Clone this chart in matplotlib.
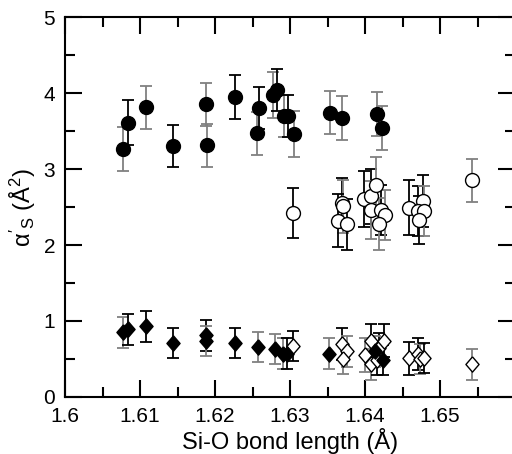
import matplotlib
matplotlib.use("Agg")
import matplotlib.pyplot as plt
from matplotlib.ticker import MultipleLocator, FixedLocator

plt.rcParams['font.family'] = ['Liberation Sans', 'DejaVu Sans']
plt.rcParams['mathtext.fontset'] = 'custom'
plt.rcParams['mathtext.rm'] = 'Liberation Sans'
plt.rcParams['mathtext.it'] = 'Liberation Sans'

# Filled circles
fc_x = [1.6078, 1.6084, 1.6108, 1.6144, 1.6188, 1.6189, 1.6226, 1.6259, 1.6256,
        1.6278, 1.6282, 1.6292, 1.6298, 1.6305, 1.6353, 1.6369, 1.6416, 1.6422]
fc_y = [3.26, 3.61, 3.81, 3.30, 3.85, 3.31, 3.95, 3.80, 3.47,
        3.97, 4.04, 3.70, 3.70, 3.46, 3.74, 3.67, 3.72, 3.54]
fc_e = [0.29, 0.30, 0.28, 0.28, 0.28, 0.28, 0.29, 0.28, 0.28,
        0.30, 0.28, 0.28, 0.28, 0.30, 0.28, 0.29, 0.29, 0.29]
fc_c = ['g', 'k', 'g', 'k', 'g', 'g', 'k', 'k', 'g',
        'g', 'k', 'g', 'k', 'g', 'g', 'g', 'g', 'g']

# Open circles
oc_x = [1.6304, 1.6369, 1.6370, 1.6364, 1.6376, 1.6399, 1.6408, 1.6415, 1.6408,
        1.6421, 1.6426, 1.6418, 1.6459, 1.6477, 1.6471, 1.6479, 1.6472, 1.6543]
oc_y = [2.42, 2.55, 2.51, 2.32, 2.27, 2.61, 2.64, 2.79, 2.46,
        2.46, 2.39, 2.28, 2.49, 2.58, 2.45, 2.45, 2.33, 2.85]
oc_e = [0.33, 0.33, 0.35, 0.35, 0.33, 0.37, 0.36, 0.37, 0.38,
        0.33, 0.33, 0.34, 0.36, 0.34, 0.33, 0.33, 0.32, 0.28]
oc_c = ['k', 'k', 'g', 'k', 'k', 'k', 'k', 'g', 'g',
        'k', 'g', 'g', 'k', 'k', 'k', 'g', 'k', 'g']

# Filled diamonds
fd_x = [1.6078, 1.6084, 1.6108, 1.6144, 1.6188, 1.6188, 1.6226, 1.6258, 1.6280,
        1.6291, 1.6296, 1.6352, 1.6413, 1.6424]
fd_y = [0.85, 0.89, 0.93, 0.71, 0.81, 0.74, 0.71, 0.66, 0.63,
        0.57, 0.57, 0.57, 0.60, 0.49]
fd_e = [0.20, 0.20, 0.20, 0.20, 0.20, 0.20, 0.20, 0.20, 0.20,
        0.20, 0.20, 0.20, 0.20, 0.20]
fd_c = ['g', 'k', 'k', 'k', 'k', 'g', 'k', 'g', 'g',
        'g', 'k', 'g', 'g', 'k']

# Open diamonds
od_x = [1.6304, 1.6369, 1.6376, 1.6370, 1.6400, 1.6408, 1.6408, 1.6416, 1.6419,
        1.6425, 1.6458, 1.6471, 1.6473, 1.6479, 1.6543]
od_y = [0.67, 0.70, 0.60, 0.50, 0.55, 0.74, 0.43, 0.49, 0.64,
        0.74, 0.51, 0.57, 0.50, 0.51, 0.43]
od_e = [0.20, 0.21, 0.20, 0.20, 0.22, 0.22, 0.20, 0.20, 0.20,
        0.22, 0.22, 0.21, 0.20, 0.20, 0.20]
od_c = ['k', 'k', 'g', 'g', 'g', 'k', 'g', 'k', 'k',
        'k', 'k', 'k', 'g', 'k', 'g']

COL = {'k': '#000000', 'g': '#808080'}
DIAMOND = [(0, 1), (0.86, 0), (0, -1), (-0.86, 0), (0, 1)]

fig = plt.figure(figsize=(5.12, 4.54), dpi=100)
ax = fig.add_axes([65/512, 1 - 397/454, 450/512, 380/454])

def draw(xs, ys, es, cs, marker, face, ms):
    for x, y, e, c in zip(xs, ys, es, cs):
        ax.errorbar(x, y, yerr=e, fmt='none', ecolor=COL[c], elinewidth=1.3,
                    capsize=4.5, capthick=1.3, zorder=2)
    ax.plot(xs, ys, linestyle='none', marker=marker, markersize=ms,
            markerfacecolor=face, markeredgecolor='black', markeredgewidth=1.0,
            zorder=3)

draw(oc_x, oc_y, oc_e, oc_c, 'o', 'white', 10)
draw(fc_x, fc_y, fc_e, fc_c, 'o', 'black', 10)
draw(od_x, od_y, od_e, od_c, DIAMOND, 'white', 11)
draw(fd_x, fd_y, fd_e, fd_c, DIAMOND, 'black', 11)

ax.set_xlim(1.6, 1.66)
ax.set_ylim(0, 5)
ax.xaxis.set_major_locator(FixedLocator([1.6, 1.61, 1.62, 1.63, 1.64, 1.65, 1.66]))
ax.set_xticklabels(['1.6', '1.61', '1.62', '1.63', '1.64', '1.65', ''])
ax.xaxis.set_minor_locator(MultipleLocator(0.005))
ax.yaxis.set_major_locator(MultipleLocator(1))
ax.yaxis.set_minor_locator(MultipleLocator(0.5))
ax.tick_params(which='both', direction='in', top=True, right=True, width=1.5,
               labelsize=15, pad=7)
ax.tick_params(which='major', length=12)
ax.tick_params(which='minor', length=7)
for s in ax.spines.values():
    s.set_linewidth(1.5)

ax.set_xlabel('Si-O bond length (Å)', fontsize=17, labelpad=2)
ax.set_ylabel(r"$\alpha'_S\ (\mathrm{\AA}^2)$", fontsize=17, labelpad=4)

fig.savefig('out.png', dpi=100)
